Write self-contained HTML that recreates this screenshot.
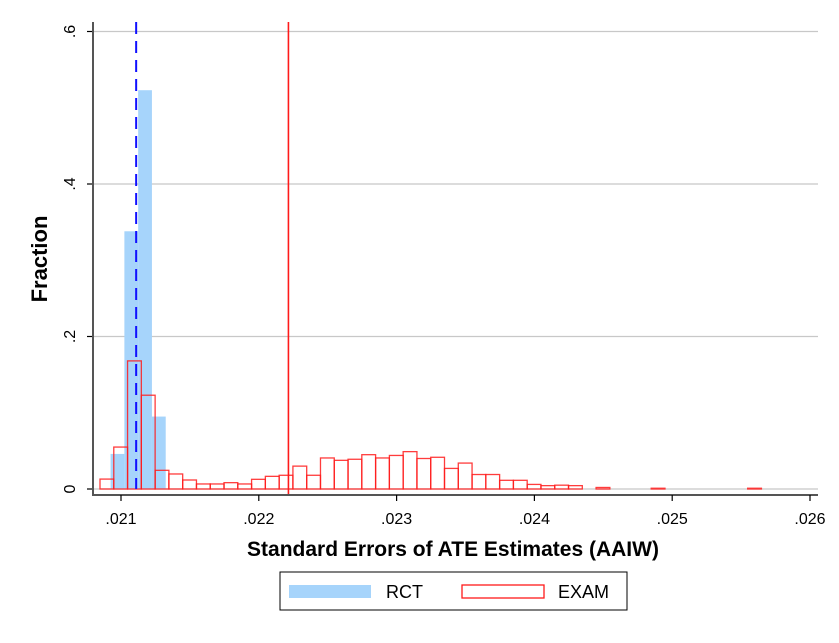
<!DOCTYPE html>
<html><head><meta charset="utf-8"><style>
body{margin:0;background:#fff;}
svg{display:block;font-family:"Liberation Sans",Arial,sans-serif;}
</style></head><body>
<svg id="chart" width="839" height="643" viewBox="0 0 839 643">
<g id="grid"></g>
<g id="bars"></g>
<g id="axes"></g>
</svg>
<script>
const xTicks=[0.021,0.022,0.023,0.024,0.025,0.026];
const xTickLabels=[".021",".022",".023",".024",".025",".026"];
const yTicks=[0,0.2,0.4,0.6];
const yTickLabels=["0",".2",".4",".6"];
const binWidth=0.0001;
const rctStart=0.0209245;
const rctValues=[0.046,0.338,0.523,0.095];
const examStart=0.0208476;
const examValues=[0.013,0.055,0.168,0.123,0.0245,0.0197,0.0118,0.0066,0.0066,0.0083,0.0066,0.0127,0.0166,0.018,0.03,0.018,0.0407,0.0376,0.039,0.045,0.0407,0.044,0.049,0.04,0.0416,0.027,0.034,0.019,0.019,0.0114,0.0114,0.006,0.0044,0.005,0.0044,0,0.002,0,0,0,0.001,0,0,0,0,0,0,0.001];
const rctMean=0.02111;
const examMean=0.022215;

const NS="http://www.w3.org/2000/svg";
const X=v=>121+(v-0.021)*137800;
const Y=v=>489-v*762.5;
function mk(tag,attrs,parent){const e=document.createElementNS(NS,tag);for(const k in attrs)e.setAttribute(k,attrs[k]);parent.appendChild(e);return e;}
const svg=document.getElementById('chart');
const grid=document.getElementById('grid'),bars=document.getElementById('bars'),axes=document.getElementById('axes');

yTicks.forEach((t,i)=>{
 if(t>0){const g=mk('line',{x1:93,x2:818,y1:Y(t),y2:Y(t),stroke:'#c8c8c8','stroke-width':1.2},grid);
 
 }
 const tk=mk('line',{x1:87,x2:93,y1:Y(t),y2:Y(t),stroke:'#000','stroke-width':1.2},axes);
 
 
 const tx=mk('text',{x:0,y:0,'font-size':16,'text-anchor':'middle',transform:`translate(75,${Y(t)}) rotate(-90)`},axes);
 tx.textContent=yTickLabels[i];
 
 
});
const bl=mk('line',{x1:93,x2:818,y1:489,y2:489,stroke:'#c8c8c8','stroke-width':1.2},grid);



rctValues.forEach((v,i)=>{
 const x0=X(rctStart+i*binWidth),x1=X(rctStart+(i+1)*binWidth);
 const r=mk('rect',{x:x0,y:Y(v),width:x1-x0,height:489-Y(v),fill:'#a6d4fb'},bars);
 
 
});
examValues.forEach((v,i)=>{
 if(v<=0)return;
 const x0=X(examStart+i*binWidth),x1=X(examStart+(i+1)*binWidth);
 const r=mk('rect',{x:x0,y:Y(v),width:x1-x0,height:489-Y(v),fill:'none',stroke:'#ff1a1a','stroke-width':1.3,'stroke-opacity':0.85},bars);
 
 
});
const ml=mk('line',{x1:X(rctMean),x2:X(rctMean),y1:22,y2:489,stroke:'#1010ff','stroke-width':2,'stroke-dasharray':'12,7'},bars);


const el=mk('line',{x1:X(examMean),x2:X(examMean),y1:22,y2:496,stroke:'#ff1a1a','stroke-width':1.6},bars);



const ya=mk('line',{x1:93,x2:93,y1:22,y2:496,stroke:'#555','stroke-width':2},axes);


const xa=mk('line',{x1:92,x2:818,y1:495,y2:495,stroke:'#555','stroke-width':2},axes);


xTicks.forEach((t,i)=>{
 const tk=mk('line',{x1:X(t),x2:X(t),y1:495,y2:501,stroke:'#000','stroke-width':1.2},axes);
 
 
 const tx=mk('text',{x:X(t),y:524,'font-size':16,'text-anchor':'middle'},axes);
 tx.textContent=xTickLabels[i];
 
 
});
const xt=mk('text',{x:453,y:556,'font-size':21,'font-weight':'bold','text-anchor':'middle'},axes);
xt.textContent='Standard Errors of ATE Estimates (AAIW)';


const yt=mk('text',{x:0,y:0,'font-size':22,'font-weight':'bold','text-anchor':'middle',transform:'translate(47,259) rotate(-90)'},axes);
yt.textContent='Fraction';



const lg=mk('g',{},svg);


mk('rect',{x:280,y:572,width:347,height:38,fill:'#fff',stroke:'#000','stroke-width':1},lg);
const s1=mk('rect',{x:289,y:585,width:82,height:13,fill:'#a6d4fb'},lg);


const t1=mk('text',{x:386,y:598,'font-size':18},lg);
t1.textContent='RCT';


const s2=mk('rect',{x:462,y:585,width:82,height:13,fill:'none',stroke:'#ff1a1a','stroke-width':1.3},lg);


const t2=mk('text',{x:558,y:598,'font-size':18},lg);
t2.textContent='EXAM';


</script>
</body></html>
